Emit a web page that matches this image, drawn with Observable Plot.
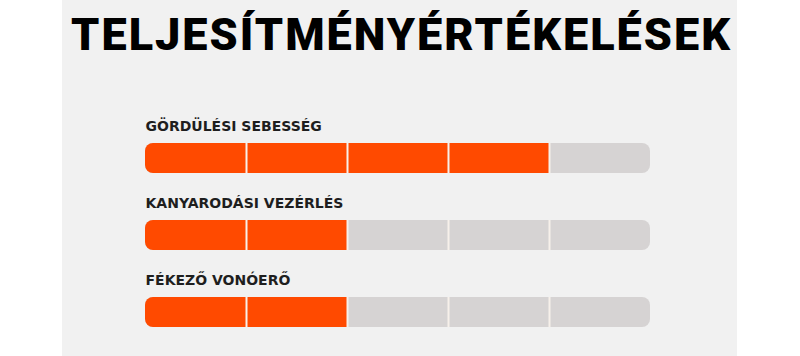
<!DOCTYPE html>
<html>
<head>
<meta charset="utf-8">
<script src="https://cdn.jsdelivr.net/npm/d3@7"></script>
<script src="https://cdn.jsdelivr.net/npm/@observablehq/plot@0.6"></script>
<style>
  html, body { margin: 0; padding: 0; background: #ffffff; }
  #wrap { position: relative; width: 800px; height: 356px; background: #ffffff; overflow: hidden; }
  #panel { position: absolute; left: 62px; top: 0; width: 675px; height: 356px; background: #f1f1f1; }
  #chart { position: absolute; left: 0; top: 0; }
  #chart svg { background: transparent; }
</style>
</head>
<body>
<div id="wrap"><div id="panel"></div><div id="chart"></div></div>
<script>
const title = "TELJESÍTMÉNYÉRTÉKELÉSEK";
const categories = ["GÖRDÜLÉSI SEBESSÉG", "KANYARODÁSI VEZÉRLÉS", "FÉKEZŐ VONÓERŐ"];
const ratings = [4, 2, 2];
const maxRating = 5;

const orange = "#ff4a00";
const grey = "#d6d3d3";

const bars = categories.map((c, i) => ({category: c, value: ratings[i]}));
const dividers = [];
for (const c of categories) for (let k = 1; k < maxRating; k++) dividers.push({category: c, x: k});

const chart = Plot.plot({
  width: 800,
  height: 356,
  margin: 0,
  style: {background: "transparent", overflow: "visible"},
  x: {domain: [0, maxRating], range: [145, 650], axis: null},
  y: {type: "band", domain: categories, range: [142, 328], paddingInner: 0.615, paddingOuter: 0, axis: null},
  marks: [
    Plot.barX(bars, {x1: 0, x2: maxRating, y: "category", fill: grey, rx: 8}),
    Plot.barX(bars, {x1: 0, x2: "value", y: "category", fill: orange, rx: 8}),
    Plot.barX(bars, {x1: 0.3, x2: "value", y: "category", fill: orange}),
    Plot.tickX(dividers, {x: "x", y: "category", stroke: "#f7f0ea", strokeWidth: 2}),
    Plot.text(bars, {
      x: 0, y: "category", text: "category", textAnchor: "start", lineAnchor: "middle",
      dy: -32, fontSize: 14, fontWeight: 700, fill: "#1e1e1e",
      fontFamily: "'DejaVu Sans', sans-serif", className: "cat-label"
    }),
    Plot.text([title], {
      frameAnchor: "top", dy: 35.5, lineAnchor: "middle", text: d => d,
      fontSize: 45, fontWeight: 900, fill: "#000000",
      fontFamily: "Roboto, sans-serif", className: "main-title"
    })
  ]
});
document.getElementById("chart").appendChild(chart);
d3.select(chart).selectAll(".main-title text")
  .attr("textLength", 659).attr("lengthAdjust", "spacing");
</script>
</body>
</html>
